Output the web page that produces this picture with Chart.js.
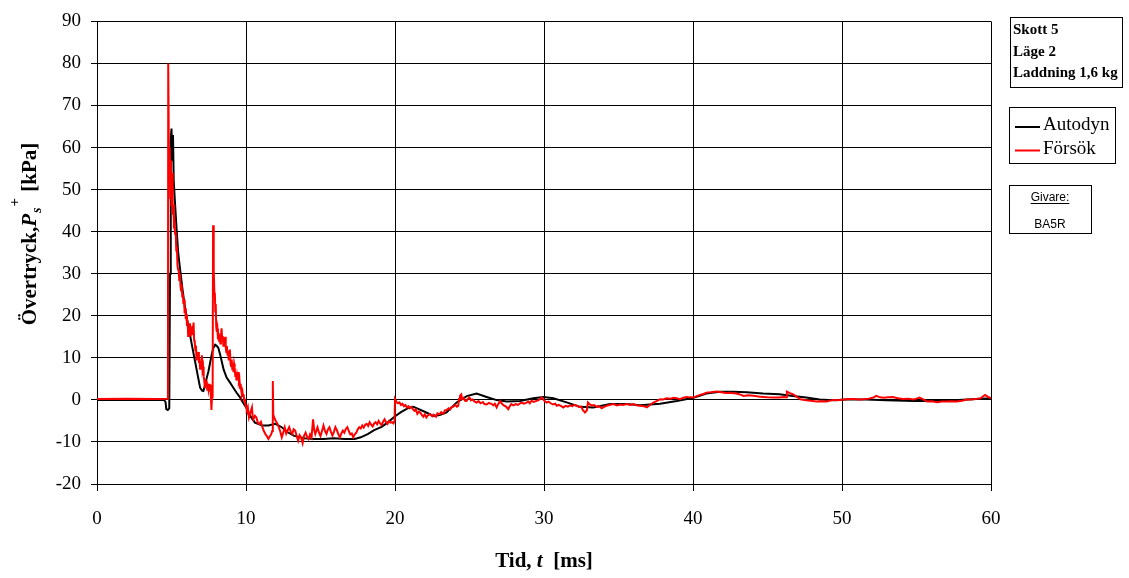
<!DOCTYPE html>
<html lang="sv">
<head>
<meta charset="utf-8">
<title>Övertryck – Skott 5</title>
<script src="https://cdn.jsdelivr.net/npm/chart.js@4.4.1/dist/chart.umd.min.js"></script>
<style>
  html, body { margin: 0; padding: 0; background: #fff; }
  #wrap { position: relative; width: 1129px; height: 578px; }
</style>
</head>
<body>
<div id="wrap"><canvas id="tryckChart" width="1129" height="578"></canvas></div>
<script>
// Autodyn (beräkning), tid i ms och övertryck i kPa
const autodynTid = [
  0, 4.5, 4.6, 4.65, 4.75, 4.85, 4.9, 4.95, 5.0, 5.05, 5.1, 5.15, 5.25, 5.34, 5.45, 5.57, 5.75, 5.91,
  6.1, 6.24, 6.4, 6.58, 6.75, 6.92, 7.05, 7.14, 7.25, 7.35, 7.48, 7.6, 7.7, 7.8, 7.93, 8.05, 8.15,
  8.25, 8.37, 8.5, 8.7, 8.93, 9.15, 9.37, 9.6, 9.8, 10.04, 10.2, 10.6, 11.1, 11.5, 11.96, 12.4, 12.8,
  13.2, 13.9, 14.6, 15.2, 15.9, 16.6, 17.3, 17.7, 18.2, 18.6, 19.1, 19.5, 19.96, 20.4, 20.9, 21.23,
  21.6, 22.1, 22.57, 23.0, 23.46, 24.14, 24.81, 25.48, 26.15, 26.82, 27.5, 28.39, 29.28, 29.96, 30.63,
  31.52, 32.42, 33.31, 34.43, 35.55, 36.45, 37.79, 38.91, 40.03, 40.9, 41.8, 42.7, 43.6, 44.7, 45.8,
  46.7, 47.6, 48.5, 49.4, 50.3, 51.6, 53.0, 54.8, 56.6, 58.4, 60
];
const autodynTryck = [
  0, 0, -0.5, -2.2, -2.4, -2.0, 30, 62, 64.5, 57, 63, 52, 46, 40.7, 35, 31.2, 26, 21.8,
  18, 15.5, 12.5, 9.2, 6, 2.9, 2.2, 2.1, 3.5, 5, 6.8, 9, 10.8, 12.3, 13.1, 12.8, 12.3,
  11, 9.2, 7.2, 5.3, 4.1, 2.9, 1.7, 0.6, -0.6, -2.0, -3.4, -5.4, -6.1, -6.1, -5.7, -6.5, -7.7,
  -8.5, -9.1, -9.3, -9.3, -9.1, -9.3, -9.3, -8.9, -8.1, -7.2, -6.4, -5.4, -4.0, -2.9, -1.9, -1.65,
  -2.2, -3.0, -3.8, -3.6, -3.0, -0.6, 0.9, 1.5, 0.7, -0.05, -0.4, -0.25, 0.4, 0.7, 0.4,
  -0.6, -1.65, -1.8, -1.0, -1.0, -1.25, -0.9, -0.25, 0.5, 1.5, 1.95, 1.95, 1.8, 1.5, 1.35,
  0.95, 0.55, 0.1, -0.1, 0.1, 0.1, -0.1, -0.25, -0.25, 0.1, 0.4
];

// Försök (mätning), tid i ms och övertryck i kPa
const forsokTid = [
  0, 2, 4.0, 4.7, 4.76, 4.78, 4.82, 4.84, 4.88, 4.92, 4.96, 5.0, 5.04,
  5.08, 5.12, 5.16, 5.2, 5.24, 5.28, 5.32, 5.36, 5.4, 5.44, 5.48, 5.52, 5.56, 5.6, 5.64, 5.68,
  5.72, 5.76, 5.8, 5.84, 5.88, 5.92, 5.96, 6.0, 6.04, 6.08, 6.12, 6.16, 6.2, 6.24, 6.28, 6.32,
  6.36, 6.4, 6.44, 6.48, 6.52, 6.56, 6.6, 6.64, 6.68, 6.72, 6.76, 6.8, 6.84, 6.88, 6.92, 6.96,
  7.0, 7.04, 7.08, 7.12, 7.16, 7.2, 7.24, 7.28, 7.32, 7.36, 7.4, 7.44, 7.48, 7.52, 7.56, 7.6,
  7.64, 7.68, 7.72, 7.76, 7.79, 7.82, 7.85, 7.88, 7.91, 7.94, 7.97, 8.0, 8.04, 8.08, 8.12, 8.16,
  8.2, 8.24, 8.28, 8.32, 8.36, 8.4, 8.44, 8.48, 8.52, 8.56, 8.6, 8.64, 8.68, 8.72, 8.76, 8.8,
  8.84, 8.88, 8.92, 8.96, 9.0, 9.04, 9.08, 9.12, 9.16, 9.2, 9.24, 9.28, 9.32, 9.36, 9.4, 9.44,
  9.48, 9.52, 9.56, 9.6, 9.64, 9.68, 9.72, 9.76, 9.8, 9.84, 9.88, 9.92, 9.96, 10.0, 10.05, 10.12,
  10.2, 10.3, 10.4, 10.45, 10.5, 10.6, 10.7, 10.8, 10.9, 11.0, 11.1, 11.2, 11.3, 11.4, 11.5, 11.6,
  11.7, 11.76, 11.8, 11.83, 11.9, 12.0, 12.1, 12.2, 12.3, 12.4, 12.5, 12.6, 12.7, 12.8, 12.9, 13.0,
  13.1, 13.2, 13.3, 13.4, 13.5, 13.6, 13.7, 13.8, 13.9, 14.0, 14.1, 14.2, 14.3, 14.4, 14.5, 14.58,
  14.65, 14.75, 14.8, 14.9, 15.0, 15.1, 15.2, 15.3, 15.4, 15.5, 15.6, 15.7, 15.8, 15.9, 16.0, 16.1,
  16.2, 16.3, 16.4, 16.5, 16.6, 16.7, 16.8, 16.9, 17.0, 17.1, 17.2, 17.3, 17.4, 17.5, 17.6, 17.7,
  17.8, 17.9, 18.0, 18.1, 18.2, 18.3, 18.4, 18.5, 18.6, 18.7, 18.8, 18.9, 19.0, 19.1, 19.2, 19.3,
  19.4, 19.5, 19.6, 19.7, 19.8, 19.9, 19.97, 20.0, 20.1, 20.2, 20.3, 20.4, 20.5, 20.6, 20.7, 20.8,
  20.9, 21.0, 21.1, 21.2, 21.3, 21.4, 21.5, 21.6, 21.7, 21.8, 21.9, 22.0, 22.1, 22.2, 22.35, 22.5,
  22.6, 22.75, 22.85, 23.0, 23.1, 23.25, 23.35, 23.46, 23.6, 23.7, 23.8, 23.9, 24.05, 24.15, 24.24,
  24.3, 24.36, 24.45, 24.5, 24.6, 24.7, 24.8, 24.9, 25.0, 25.1, 25.2, 25.35, 25.48, 25.6, 25.75, 25.9,
  26.0, 26.15, 26.3, 26.5, 26.6, 26.7, 26.82, 26.9, 27.05, 27.15, 27.3, 27.45, 27.6, 27.7, 27.8,
  27.95, 28.1, 28.25, 28.4, 28.5, 28.65, 28.8, 28.95, 29.05, 29.17, 29.3, 29.45, 29.6, 29.75, 29.85,
  29.95, 30.05, 30.18, 30.3, 30.45, 30.6, 30.75, 30.85, 31.0, 31.15, 31.3, 31.45, 31.6, 31.75, 31.9,
  32.05, 32.2, 32.35, 32.5, 32.6, 32.75, 32.88, 32.95, 33.05, 33.2, 33.35, 33.54, 33.7, 33.87, 34.0,
  34.2, 34.4, 34.66, 34.9, 35.1, 35.3, 35.55, 35.8, 36.0, 36.2, 36.45, 36.7, 36.9, 37.1, 37.34, 37.55,
  37.79, 38.0, 38.23, 38.5, 38.7, 38.91, 39.13, 39.35, 39.58, 39.8, 40.02, 40.25, 40.47, 40.7, 40.9,
  41.2, 41.6, 41.9, 42.2, 42.5, 42.9, 43.15, 43.4, 43.7, 44.05, 44.4, 44.7, 45.0, 45.4, 45.8, 46.1,
  46.25, 46.3, 46.5, 46.7, 46.95, 47.2, 47.6, 47.9, 48.3, 48.6, 48.97, 49.4, 49.7, 50.1, 50.5, 50.8,
  51.1, 51.4, 51.8, 52.1, 52.3, 52.55, 52.8, 53.1, 53.4, 53.75, 54.1, 54.45, 54.8, 55.0, 55.2, 55.45,
  55.7, 56.0, 56.4, 56.7, 57.0, 57.35, 57.7, 58.05, 58.4, 58.7, 59.0, 59.3, 59.6, 59.8, 60.0
];
const forsokTryck = [
  0.2, 0.3, 0.2, 0.3, 0.5, 80, 80, 52, 60, 48, 57, 46, 54,
  44, 46.5, 42, 42.5, 39.5, 40, 35.5, 36.5, 32, 31, 30.8, 28.5, 30, 27.2, 26, 27.5,
  24.6, 25.3, 22.8, 23.9, 20.6, 21.8, 19.2, 20.3, 17.6, 18.9, 15.2, 17.4, 15.8, 18.2, 15.1, 16.9,
  15.4, 17.6, 15.6, 18.4, 14.2, 13.6, 11.8, 12.9, 9.4, 11.2, 9.6, 11.4, 8.8, 9.9, 7.4, 9.3,
  8.1, 10.6, 7.2, 7.9, 5.6, 4.6, 2.8, 4.9, 3.6, 4.6, 2.4, 3.9, 2.6, 3.8, 2.0, 3.6,
  1.0, -2.4, 1.2, 0.4, 41.5, 30, 31, 25, 25.5, 21, 22.8, 17.4, 16.2, 17.0, 14.4, 15.9,
  14.0, 15.6, 13.4, 15.1, 17.0, 14.3, 15.2, 12.9, 14.6, 13.2, 15.0, 12.5, 11.4, 12.8, 10.6, 11.7,
  9.4, 10.4, 12.0, 8.6, 8.0, 9.6, 7.3, 8.3, 6.6, 8.6, 7.7, 5.7, 6.6, 4.6, 5.8, 4.8,
  6.6, 4.4, 4.9, 2.8, 3.8, 2.2, 1.4, 2.0, 0.9, 1.3, -0.2, 0.3, -1.0, -1.6, -2.2, -1.6,
  -4.2, -3.0, -1.8, -4.0, -4.6, -3.8, -4.2, -5.5, -5.7, -5.2, -6.5, -7.4, -8.1, -8.6, -9.3, -8.7,
  -8.1, -7.4, 4.5, -3.5, -4.2, -5.0, -5.6, -6.5, -7.5, -8.9, -7.8, -6.5, -8.0, -7.2, -6.5, -7.6,
  -8.1, -7.0, -7.3, -8.6, -9.7, -8.4, -9.0, -10.3, -8.5, -7.8, -8.8, -9.3, -8.2, -8.9, -4.6, -7.2,
  -8.1, -7.0, -6.5, -7.8, -8.6, -7.4, -6.1, -7.4, -8.1, -7.0, -6.5, -7.6, -8.5, -7.6, -6.5, -7.2,
  -8.2, -8.9, -8.0, -7.3, -7.8, -6.9, -6.5, -7.4, -8.2, -8.0, -8.9, -8.2, -7.8, -7.0, -6.5, -6.8,
  -6.1, -6.6, -5.9, -5.7, -6.2, -5.3, -5.9, -6.3, -5.6, -5.3, -5.8, -5.0, -5.6, -6.0, -5.2, -4.6,
  -5.3, -5.7, -5.0, -5.4, -5.3, -5.6, -5.0, 0.2, -0.5, -0.8, -0.6, -1.2, -0.9, -1.5, -1.2, -1.8,
  -1.5, -2.0, -1.7, -2.2, -2.6, -2.3, -3.3, -2.8, -3.0, -3.6, -4.0, -3.4, -4.2, -3.7, -3.4, -3.9,
  -3.5, -4.0, -3.2, -3.4, -2.9, -3.3, -2.5, -2.4, -2.0, -2.3, -1.7, -1.65, -1.2, -1.6, -1.4,
  0.2, 0.94, 1.3, 0.16, 0.5, -0.2, -0.24, 0.3, 0.55, -0.1, 0.1, -0.4, -0.63, -0.3, -0.8, -0.5,
  -1.0, -1.1, -0.7, -1.0, -1.3, -0.9, -1.8, -1.2, -0.24, -0.8, -1.3, -1.6, -2.2, -1.5, -1.0,
  -1.3, -1.0, -1.2, -0.8, -0.63, -0.9, -0.7, -0.4, -0.8, -0.16, -0.5, -0.3, -0.1, 0.2, 0.55,
  0.1, -0.3, -0.63, -0.4, -0.8, -1.1, -0.9, -1.4, -1.2, -1.5, -1.8, -1.4, -1.6, -1.3, -1.5,
  -1.2, -1.4, -1.7, -1.6, -2.4, -3.0, -2.5, -0.63, -1.0, -1.3, -1.2, -1.65, -1.5, -2.0, -1.7,
  -1.4, -1.2, -1.0, -1.3, -1.1, -1.2, -1.0, -1.2, -1.0, -1.3, -1.4, -1.5, -1.8, -1.2, -0.63, -0.3,
  0.16, 0.1, 0.4, 0.3, 0.5, 0.4, 0.16, 0.5, 0.71, 0.6, 0.55, 0.9, 1.2, 1.4, 1.73,
  1.8, 1.97, 1.8, 1.65, 1.7, 1.5, 1.3, 0.94, 1.1, 1.0, 0.8, 0.7, 0.6, 0.55, 0.55, 0.7,
  0.6, 1.97, 1.6, 1.34, 0.8, 0.16, -0.08, -0.2, -0.39, -0.3, -0.39, 0.0, -0.1, 0.08, 0.2, 0.24,
  0.1, 0.16, 0.3, 0.55, 0.94, 0.6, 0.5, 0.6, 0.7, 0.4, 0.24, 0.3, 0.08, 0.3, 0.55, 0.1,
  -0.39, -0.3, -0.55, -0.4, -0.39, -0.3, -0.39, -0.2, 0.08, 0.1, 0.24, 0.4, 1.18, 0.7, 0.4
];

const xTicks = [0, 10, 20, 30, 40, 50, 60];
const yTicks = [-20, -10, 0, 10, 20, 30, 40, 50, 60, 70, 80, 90];
const infoRader = ['Skott 5', 'Läge 2', 'Laddning 1,6 kg'];
const givare = 'BA5R';

const serif = "'Liberation Serif', 'Times New Roman', serif";
const sans = "'Liberation Sans', Arial, sans-serif";

const zip = (xs, ys) => xs.map((x, i) => ({ x: x, y: ys[i] }));

// ritar en rad med olika typsnitt i följd, centrerad kring cx
function drawRuns(ctx, runs, cx, y) {
  let total = 0;
  runs.forEach(r => {
    ctx.font = r.font;
    r.w = ctx.measureText(r.text).width + (r.extra || 0);
    total += r.w;
  });
  let x = cx - total / 2;
  runs.forEach(r => {
    ctx.font = r.font;
    ctx.fillText(r.text, x + (r.dx || 0), y + (r.dy || 0));
    x += r.w;
  });
}

const textPlugin = {
  id: 'texter',
  afterDraw(chart) {
    const ctx = chart.ctx;
    const area = chart.chartArea;
    ctx.save();
    ctx.fillStyle = '#000';
    ctx.textBaseline = 'alphabetic';
    ctx.textAlign = 'left';

    // x-axelns titel
    drawRuns(ctx, [
      { text: 'Tid, ', font: 'bold 21px ' + serif },
      { text: 't', font: 'italic bold 21px ' + serif },
      { text: '  [ms]', font: 'bold 21px ' + serif }
    ], (area.left + area.right) / 2, 567);

    // y-axelns titel, roterad
    ctx.save();
    ctx.translate(36, 234);
    ctx.rotate(-Math.PI / 2);
    drawRuns(ctx, [
      { text: 'Övertryck,', font: 'bold 21px ' + serif },
      { text: 'P', font: 'italic bold 21px ' + serif, extra: 1 },
      { text: 's', font: 'italic bold 14px ' + serif, dy: 5 },
      { text: '+', font: 'bold 15px ' + serif, dy: -17, dx: 1, extra: 2 },
      { text: ' [kPa]', font: 'bold 21px ' + serif }
    ], 0, 0);
    ctx.restore();

    ctx.lineWidth = 1;
    ctx.strokeStyle = '#000';

    // ruta med försöksdata
    ctx.strokeRect(1010.5, 17.5, 112, 70);
    ctx.font = 'bold 15px ' + serif;
    infoRader.forEach((rad, i) => ctx.fillText(rad, 1013, 34 + i * 21.5));

    // serieförklaring
    ctx.strokeRect(1009.5, 107.5, 106, 56);
    const serier = [chart.data.datasets[1], chart.data.datasets[0]];
    ctx.font = '19px ' + serif;
    serier.forEach((ds, i) => {
      const y = 127 + i * 23.5;
      ctx.strokeStyle = ds.borderColor;
      ctx.lineWidth = 2;
      ctx.beginPath();
      ctx.moveTo(1015, y);
      ctx.lineTo(1040, y);
      ctx.stroke();
      ctx.fillText(ds.label, 1043, y + 3);
    });

    // givarruta
    ctx.strokeStyle = '#000';
    ctx.lineWidth = 1;
    ctx.strokeRect(1009.5, 185.5, 82, 48);
    ctx.font = '12px ' + sans;
    ctx.textAlign = 'center';
    ctx.fillText('Givare:', 1050, 201);
    const gw = ctx.measureText('Givare:').width;
    ctx.fillRect(1050 - gw / 2, 203, gw, 1);
    ctx.fillText(givare, 1050, 228);
    ctx.restore();
  }
};

const tickFont = { family: serif, size: 19 };

new Chart(document.getElementById('tryckChart'), {
  type: 'line',
  data: {
    datasets: [
      {
        label: 'Försök',
        data: zip(forsokTid, forsokTryck),
        borderColor: '#ff0000',
        borderWidth: 2,
        pointRadius: 0,
        tension: 0,
        order: 0
      },
      {
        label: 'Autodyn',
        data: zip(autodynTid, autodynTryck),
        borderColor: '#000000',
        borderWidth: 2,
        pointRadius: 0,
        tension: 0,
        order: 1
      }
    ]
  },
  options: {
    responsive: false,
    animation: false,
    events: [],
    layout: { padding: { top: 18, right: 138, bottom: 0, left: 0 } },
    plugins: {
      legend: { display: false },
      tooltip: { enabled: false }
    },
    scales: {
      x: {
        type: 'linear',
        min: 0,
        max: 60,
        afterBuildTicks: s => { s.ticks = xTicks.map(v => ({ value: v })); },
        afterFit: s => { s.height = 94; },
        ticks: { font: tickFont, color: '#000', padding: 17, maxRotation: 0 },
        grid: { color: '#000', lineWidth: 1, tickLength: 7 },
        border: { color: '#000', width: 1 }
      },
      y: {
        type: 'linear',
        min: -20,
        max: 90,
        afterBuildTicks: s => { s.ticks = yTicks.map(v => ({ value: v })); },
        afterFit: s => { s.width = 97; },
        ticks: { font: tickFont, color: '#000', padding: 10 },
        grid: { color: '#000', lineWidth: 1, tickLength: 6 },
        border: { color: '#000', width: 1 }
      }
    }
  },
  plugins: [textPlugin]
});
</script>
</body>
</html>
